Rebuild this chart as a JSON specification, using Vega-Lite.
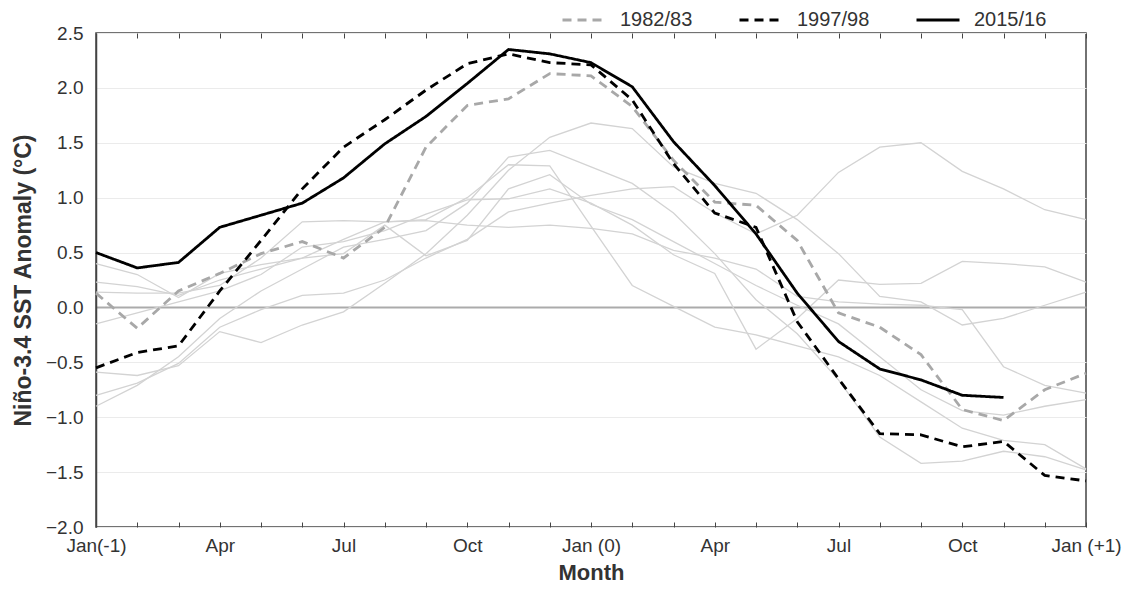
{
"$schema":"https://vega.github.io/schema/vega-lite/v6.json",
"width":990,"height":494,
"autosize":{"type":"none"},
"padding":{"left":96,"top":33,"right":44,"bottom":62},
"background":"white",
"data":{"values":[
{"event":"e1","month":0,"sst":-0.59},{"event":"e1","month":1,"sst":-0.62},{"event":"e1","month":2,"sst":-0.53},{"event":"e1","month":3,"sst":-0.22},{"event":"e1","month":4,"sst":-0.32},{"event":"e1","month":5,"sst":-0.16},{"event":"e1","month":6,"sst":-0.04},{"event":"e1","month":7,"sst":0.22},{"event":"e1","month":8,"sst":0.49},{"event":"e1","month":9,"sst":0.84},{"event":"e1","month":10,"sst":1.25},{"event":"e1","month":11,"sst":1.55},{"event":"e1","month":12,"sst":1.68},{"event":"e1","month":13,"sst":1.63},{"event":"e1","month":14,"sst":1.28},{"event":"e1","month":15,"sst":1.13},{"event":"e1","month":16,"sst":1.04},{"event":"e1","month":17,"sst":0.80},{"event":"e1","month":18,"sst":0.49},{"event":"e1","month":19,"sst":0.10},{"event":"e1","month":20,"sst":0.05},{"event":"e1","month":21,"sst":-0.16},{"event":"e1","month":22,"sst":-0.10},{"event":"e1","month":23,"sst":0.02},{"event":"e1","month":24,"sst":0.14},
{"event":"e2","month":0,"sst":-0.80},{"event":"e2","month":1,"sst":-0.69},{"event":"e2","month":2,"sst":-0.51},{"event":"e2","month":3,"sst":-0.18},{"event":"e2","month":4,"sst":-0.02},{"event":"e2","month":5,"sst":0.11},{"event":"e2","month":6,"sst":0.13},{"event":"e2","month":7,"sst":0.25},{"event":"e2","month":8,"sst":0.45},{"event":"e2","month":9,"sst":0.62},{"event":"e2","month":10,"sst":0.87},{"event":"e2","month":11,"sst":0.95},{"event":"e2","month":12,"sst":1.02},{"event":"e2","month":13,"sst":1.08},{"event":"e2","month":14,"sst":1.10},{"event":"e2","month":15,"sst":0.86},{"event":"e2","month":16,"sst":0.67},{"event":"e2","month":17,"sst":0.84},{"event":"e2","month":18,"sst":1.23},{"event":"e2","month":19,"sst":1.46},{"event":"e2","month":20,"sst":1.50},{"event":"e2","month":21,"sst":1.24},{"event":"e2","month":22,"sst":1.08},{"event":"e2","month":23,"sst":0.89},{"event":"e2","month":24,"sst":0.80},
{"event":"e3","month":0,"sst":-0.90},{"event":"e3","month":1,"sst":-0.71},{"event":"e3","month":2,"sst":-0.45},{"event":"e3","month":3,"sst":-0.10},{"event":"e3","month":4,"sst":0.15},{"event":"e3","month":5,"sst":0.35},{"event":"e3","month":6,"sst":0.55},{"event":"e3","month":7,"sst":0.62},{"event":"e3","month":8,"sst":0.70},{"event":"e3","month":9,"sst":0.95},{"event":"e3","month":10,"sst":1.37},{"event":"e3","month":11,"sst":1.43},{"event":"e3","month":12,"sst":1.28},{"event":"e3","month":13,"sst":1.13},{"event":"e3","month":14,"sst":0.86},{"event":"e3","month":15,"sst":0.49},{"event":"e3","month":16,"sst":0.07},{"event":"e3","month":17,"sst":-0.24},{"event":"e3","month":18,"sst":-0.66},{"event":"e3","month":19,"sst":-1.18},{"event":"e3","month":20,"sst":-1.42},{"event":"e3","month":21,"sst":-1.40},{"event":"e3","month":22,"sst":-1.31},{"event":"e3","month":23,"sst":-1.36},{"event":"e3","month":24,"sst":-1.48},
{"event":"e4","month":0,"sst":0.40},{"event":"e4","month":1,"sst":0.30},{"event":"e4","month":2,"sst":0.09},{"event":"e4","month":3,"sst":0.31},{"event":"e4","month":4,"sst":0.39},{"event":"e4","month":5,"sst":0.45},{"event":"e4","month":6,"sst":0.62},{"event":"e4","month":7,"sst":0.78},{"event":"e4","month":8,"sst":0.80},{"event":"e4","month":9,"sst":1.00},{"event":"e4","month":10,"sst":1.30},{"event":"e4","month":11,"sst":1.29},{"event":"e4","month":12,"sst":0.74},{"event":"e4","month":13,"sst":0.20},{"event":"e4","month":14,"sst":0.01},{"event":"e4","month":15,"sst":-0.18},{"event":"e4","month":16,"sst":-0.25},{"event":"e4","month":17,"sst":-0.35},{"event":"e4","month":18,"sst":-0.45},{"event":"e4","month":19,"sst":-0.62},{"event":"e4","month":20,"sst":-0.86},{"event":"e4","month":21,"sst":-1.10},{"event":"e4","month":22,"sst":-1.21},{"event":"e4","month":23,"sst":-1.25},{"event":"e4","month":24,"sst":-1.47},
{"event":"e5","month":0,"sst":0.23},{"event":"e5","month":1,"sst":0.19},{"event":"e5","month":2,"sst":0.11},{"event":"e5","month":3,"sst":0.25},{"event":"e5","month":4,"sst":0.35},{"event":"e5","month":5,"sst":0.45},{"event":"e5","month":6,"sst":0.49},{"event":"e5","month":7,"sst":0.75},{"event":"e5","month":8,"sst":0.47},{"event":"e5","month":9,"sst":0.61},{"event":"e5","month":10,"sst":1.08},{"event":"e5","month":11,"sst":1.21},{"event":"e5","month":12,"sst":0.94},{"event":"e5","month":13,"sst":0.80},{"event":"e5","month":14,"sst":0.60},{"event":"e5","month":15,"sst":0.40},{"event":"e5","month":16,"sst":0.20},{"event":"e5","month":17,"sst":0.02},{"event":"e5","month":18,"sst":-0.15},{"event":"e5","month":19,"sst":-0.45},{"event":"e5","month":20,"sst":-0.75},{"event":"e5","month":21,"sst":-0.94},{"event":"e5","month":22,"sst":-0.98},{"event":"e5","month":23,"sst":-0.90},{"event":"e5","month":24,"sst":-0.84},
{"event":"e6","month":0,"sst":0.14},{"event":"e6","month":1,"sst":0.13},{"event":"e6","month":2,"sst":0.13},{"event":"e6","month":3,"sst":0.20},{"event":"e6","month":4,"sst":0.45},{"event":"e6","month":5,"sst":0.78},{"event":"e6","month":6,"sst":0.79},{"event":"e6","month":7,"sst":0.78},{"event":"e6","month":8,"sst":0.79},{"event":"e6","month":9,"sst":0.75},{"event":"e6","month":10,"sst":0.73},{"event":"e6","month":11,"sst":0.75},{"event":"e6","month":12,"sst":0.72},{"event":"e6","month":13,"sst":0.67},{"event":"e6","month":14,"sst":0.52},{"event":"e6","month":15,"sst":0.45},{"event":"e6","month":16,"sst":0.35},{"event":"e6","month":17,"sst":0.10},{"event":"e6","month":18,"sst":0.05},{"event":"e6","month":19,"sst":0.03},{"event":"e6","month":20,"sst":0.02},{"event":"e6","month":21,"sst":-0.02},{"event":"e6","month":22,"sst":-0.54},{"event":"e6","month":23,"sst":-0.71},{"event":"e6","month":24,"sst":-0.78},
{"event":"e7","month":0,"sst":-0.15},{"event":"e7","month":1,"sst":-0.05},{"event":"e7","month":2,"sst":0.05},{"event":"e7","month":3,"sst":0.15},{"event":"e7","month":4,"sst":0.30},{"event":"e7","month":5,"sst":0.55},{"event":"e7","month":6,"sst":0.60},{"event":"e7","month":7,"sst":0.70},{"event":"e7","month":8,"sst":0.85},{"event":"e7","month":9,"sst":0.98},{"event":"e7","month":10,"sst":0.99},{"event":"e7","month":11,"sst":1.08},{"event":"e7","month":12,"sst":0.95},{"event":"e7","month":13,"sst":0.75},{"event":"e7","month":14,"sst":0.48},{"event":"e7","month":15,"sst":0.31},{"event":"e7","month":16,"sst":-0.38},{"event":"e7","month":17,"sst":-0.10},{"event":"e7","month":18,"sst":0.25},{"event":"e7","month":19,"sst":0.21},{"event":"e7","month":20,"sst":0.22},{"event":"e7","month":21,"sst":0.42},{"event":"e7","month":22,"sst":0.40},{"event":"e7","month":23,"sst":0.37},{"event":"e7","month":24,"sst":0.23},
{"event":"1982/83","month":0,"sst":0.13},{"event":"1982/83","month":1,"sst":-0.19},{"event":"1982/83","month":2,"sst":0.15},{"event":"1982/83","month":3,"sst":0.31},{"event":"1982/83","month":4,"sst":0.49},{"event":"1982/83","month":5,"sst":0.60},{"event":"1982/83","month":6,"sst":0.45},{"event":"1982/83","month":7,"sst":0.73},{"event":"1982/83","month":8,"sst":1.46},{"event":"1982/83","month":9,"sst":1.84},{"event":"1982/83","month":10,"sst":1.90},{"event":"1982/83","month":11,"sst":2.13},{"event":"1982/83","month":12,"sst":2.11},{"event":"1982/83","month":13,"sst":1.83},{"event":"1982/83","month":14,"sst":1.34},{"event":"1982/83","month":15,"sst":0.96},{"event":"1982/83","month":16,"sst":0.93},{"event":"1982/83","month":17,"sst":0.61},{"event":"1982/83","month":18,"sst":-0.05},{"event":"1982/83","month":19,"sst":-0.18},{"event":"1982/83","month":20,"sst":-0.43},{"event":"1982/83","month":21,"sst":-0.93},{"event":"1982/83","month":22,"sst":-1.03},{"event":"1982/83","month":23,"sst":-0.75},{"event":"1982/83","month":24,"sst":-0.60},
{"event":"1997/98","month":0,"sst":-0.55},{"event":"1997/98","month":1,"sst":-0.41},{"event":"1997/98","month":2,"sst":-0.35},{"event":"1997/98","month":3,"sst":0.15},{"event":"1997/98","month":4,"sst":0.61},{"event":"1997/98","month":5,"sst":1.08},{"event":"1997/98","month":6,"sst":1.46},{"event":"1997/98","month":7,"sst":1.71},{"event":"1997/98","month":8,"sst":1.98},{"event":"1997/98","month":9,"sst":2.22},{"event":"1997/98","month":10,"sst":2.31},{"event":"1997/98","month":11,"sst":2.23},{"event":"1997/98","month":12,"sst":2.21},{"event":"1997/98","month":13,"sst":1.89},{"event":"1997/98","month":14,"sst":1.31},{"event":"1997/98","month":15,"sst":0.86},{"event":"1997/98","month":16,"sst":0.73},{"event":"1997/98","month":17,"sst":-0.13},{"event":"1997/98","month":18,"sst":-0.65},{"event":"1997/98","month":19,"sst":-1.15},{"event":"1997/98","month":20,"sst":-1.16},{"event":"1997/98","month":21,"sst":-1.27},{"event":"1997/98","month":22,"sst":-1.22},{"event":"1997/98","month":23,"sst":-1.53},{"event":"1997/98","month":24,"sst":-1.58},
{"event":"2015/16","month":0,"sst":0.50},{"event":"2015/16","month":1,"sst":0.36},{"event":"2015/16","month":2,"sst":0.41},{"event":"2015/16","month":3,"sst":0.73},{"event":"2015/16","month":4,"sst":0.84},{"event":"2015/16","month":5,"sst":0.95},{"event":"2015/16","month":6,"sst":1.18},{"event":"2015/16","month":7,"sst":1.49},{"event":"2015/16","month":8,"sst":1.74},{"event":"2015/16","month":9,"sst":2.04},{"event":"2015/16","month":10,"sst":2.35},{"event":"2015/16","month":11,"sst":2.31},{"event":"2015/16","month":12,"sst":2.23},{"event":"2015/16","month":13,"sst":2.01},{"event":"2015/16","month":14,"sst":1.51},{"event":"2015/16","month":15,"sst":1.11},{"event":"2015/16","month":16,"sst":0.67},{"event":"2015/16","month":17,"sst":0.13},{"event":"2015/16","month":18,"sst":-0.31},{"event":"2015/16","month":19,"sst":-0.56},{"event":"2015/16","month":20,"sst":-0.66},{"event":"2015/16","month":21,"sst":-0.80},{"event":"2015/16","month":22,"sst":-0.82}
]},
"layer":[
{"transform":[{"filter":{"not":{"field":"event","oneOf":["1982/83","1997/98","2015/16"]}}}],
 "mark":{"type":"line","stroke":"#d3d3d3","strokeWidth":1.3},
 "encoding":{
  "x":{"field":"month","type":"quantitative","scale":{"domain":[0,24],"nice":false,"zero":false},
   "axis":{"orient":"bottom","values":[0,1,2,3,4,5,6,7,8,9,10,11,12,13,14,15,16,17,18,19,20,21,22,23,24],
    "labelExpr":"datum.value==0?'Jan(-1)':datum.value==3?'Apr':datum.value==6?'Jul':datum.value==9?'Oct':datum.value==12?'Jan (0)':datum.value==15?'Apr':datum.value==18?'Jul':datum.value==21?'Oct':datum.value==24?'Jan (+1)':''",
    "labelOverlap":false,"labelFlush":false,"domain":false,"offset":-5,"tickSize":5,"labelPadding":9,"grid":false,
    "title":"Month","titleFontSize":22,"titleFontWeight":"bold","titlePadding":7}},
  "y":{"field":"sst","type":"quantitative","scale":{"domain":[-2,2.5],"nice":false,"zero":false},
   "axis":{"values":[-2,-1.5,-1,-0.5,0,0.5,1,1.5,2,2.5],"format":".1f","ticks":false,"labelPadding":13,
    "title":"Niño-3.4 SST Anomaly (°C)","titleFontSize":23,"titleFontWeight":"bold","titlePadding":10,
    "grid":true,
    "gridColor":{"condition":{"test":"datum.value === 0","value":"#ababab"},"value":"#ebebeb"},
    "gridWidth":{"condition":{"test":"datum.value === 0","value":1.8},"value":1}}},
  "detail":{"field":"event","type":"nominal"}
 }},
{"transform":[{"filter":{"field":"event","oneOf":["1982/83","1997/98","2015/16"]}}],
 "mark":{"type":"line","strokeWidth":2.8},
 "encoding":{
  "x":{"field":"month","type":"quantitative","scale":{"domain":[0,24],"nice":false,"zero":false},
   "axis":{"orient":"top","values":[0,1,2,3,4,5,6,7,8,9,10,11,12,13,14,15,16,17,18,19,20,21,22,23,24],
    "labels":false,"domain":false,"offset":-5,"tickSize":5,"grid":false,"title":null}},
  "y":{"field":"sst","type":"quantitative","scale":{"domain":[-2,2.5],"nice":false,"zero":false},
   "axis":{"values":[-2,-1.5,-1,-0.5,0,0.5,1,1.5,2,2.5],"format":".1f","ticks":false,"labelPadding":13,
    "title":"Niño-3.4 SST Anomaly (°C)","titleFontSize":23,"titleFontWeight":"bold","titlePadding":10,
    "grid":true,
    "gridColor":{"condition":{"test":"datum.value === 0","value":"#ababab"},"value":"#ebebeb"},
    "gridWidth":{"condition":{"test":"datum.value === 0","value":1.8},"value":1}}},
  "color":{"field":"event","type":"nominal","scale":{"domain":["1982/83","1997/98","2015/16"],"range":["#a8a8a8","#000000","#000000"]},
   "legend":{"orient":"none","legendX":465,"legendY":-36,"direction":"horizontal","title":null}},
  "strokeDash":{"field":"event","type":"nominal","scale":{"domain":["1982/83","1997/98","2015/16"],"range":[[9,6],[9,6],[1,0]]},
   "legend":{"orient":"none","legendX":465,"legendY":-36,"direction":"horizontal","title":null}}
 }}
],
"resolve":{"axis":{"x":"independent"}},
"config":{
 "font":"Liberation Sans",
 "view":{"stroke":"#444444","strokeWidth":1.5},
 "axis":{"domainColor":"#444444","domainWidth":1.5,"tickColor":"#444444","tickWidth":1,"labelFont":"Liberation Sans","labelFontSize":19,"labelColor":"#333333","titleFont":"Liberation Sans","titleColor":"#333333"},
 "legend":{"symbolType":"stroke","symbolSize":1849,"symbolStrokeWidth":3,"labelFontSize":20,"labelColor":"#333333","labelFont":"Liberation Sans","labelOffset":13,"columnPadding":40}
}
}
